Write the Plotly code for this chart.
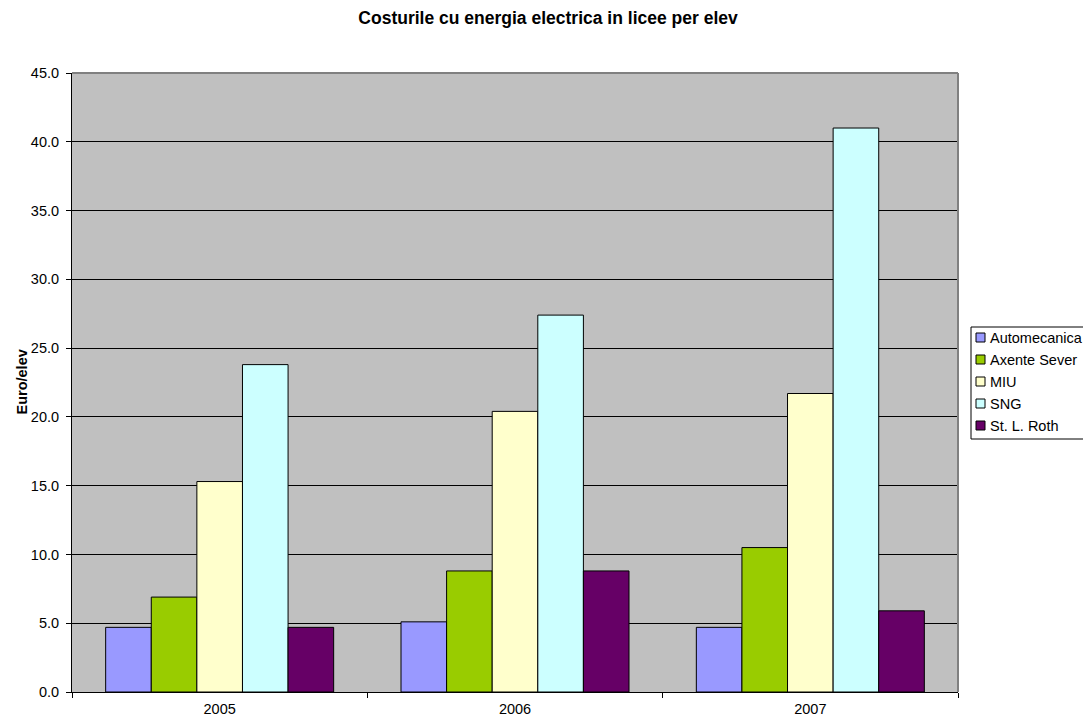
import plotly.graph_objects as go

years = ["2005", "2006", "2007"]
automecanica = [4.7, 5.1, 4.7]
axente_sever = [6.9, 8.8, 10.5]
miu = [15.3, 20.4, 21.7]
sng = [23.8, 27.4, 41.0]
roth = [4.7, 8.8, 5.9]

series = [
    ("Automecanica", automecanica, "#9999FF"),
    ("Axente Sever", axente_sever, "#99CC00"),
    ("MIU", miu, "#FFFFCC"),
    ("SNG", sng, "#CCFFFF"),
    ("St. L. Roth", roth, "#660066"),
]

FONT = "Liberation Sans, Arial, sans-serif"

fig = go.Figure()
for name, vals, col in series:
    fig.add_trace(go.Bar(x=years, y=vals, name=name,
                         marker=dict(color=col, line=dict(color="black", width=1))))

# plot-area pixel geometry (page coords) used to place the custom legend
PX0, PX1, PY0, PY1 = 72, 958, 73, 692
def px(x):
    return (x - PX0) / (PX1 - PX0)
def py(y):
    return (PY1 - y) / (PY1 - PY0)

shapes = [
    dict(type="line", xref="paper", yref="paper", x0=0, x1=1, y0=1, y1=1,
         line=dict(color="#808080", width=2)),
    dict(type="line", xref="paper", yref="paper", x0=1, x1=1, y0=0, y1=1,
         line=dict(color="#808080", width=2)),
    dict(type="rect", xref="paper", yref="paper", x0=px(971), x1=px(1090), y0=py(439), y1=py(327),
         line=dict(color="black", width=1), fillcolor="white", layer="above"),
]
annotations = [
    dict(text="<b>Euro/elev</b>", xref="paper", yref="paper", x=px(21), y=0.5, textangle=-90,
         xanchor="center", yanchor="middle", showarrow=False,
         font=dict(family=FONT, size=14.5, color="black")),
]
for i, (name, vals, col) in enumerate(series):
    cy = 337.5 + 22 * i
    shapes.append(dict(type="rect", xref="paper", yref="paper", x0=px(976), x1=px(985),
                       y0=py(cy + 4.5), y1=py(cy - 4.5), line=dict(color="black", width=1),
                       fillcolor=col, layer="above"))
    annotations.append(dict(text=name, xref="paper", yref="paper", x=px(988), y=py(cy),
                            xanchor="left", yanchor="middle", showarrow=False,
                            font=dict(family=FONT, size=14.5, color="black")))

fig.update_layout(
    width=1091, height=724,
    paper_bgcolor="white", plot_bgcolor="#C0C0C0",
    margin=dict(l=64, r=141, t=65, b=40, autoexpand=False),
    barmode="group", bargap=0.228, bargroupgap=0,
    showlegend=False,
    font=dict(family=FONT, size=14.5, color="black"),
    title=dict(text="<b>Costurile cu energia electrica in licee per elev</b>", x=0.495, xanchor="center",
               y=1 - 10 / 724, yanchor="middle", font=dict(size=17.5)),
    shapes=shapes, annotations=annotations,
)
fig.update_xaxes(showline=True, linecolor="black", linewidth=1, ticks="outside", tickson="boundaries",
                 ticklen=5, tickcolor="black", showgrid=False, ticklabelstandoff=4)
fig.update_yaxes(range=[0, 45], dtick=5, tickformat=".1f", showline=True, linecolor="black", linewidth=1,
                 ticks="outside", ticklen=5, tickcolor="black", gridcolor="black", gridwidth=1,
                 zeroline=False, ticklabelstandoff=4)
fig.write_html("out.html")
